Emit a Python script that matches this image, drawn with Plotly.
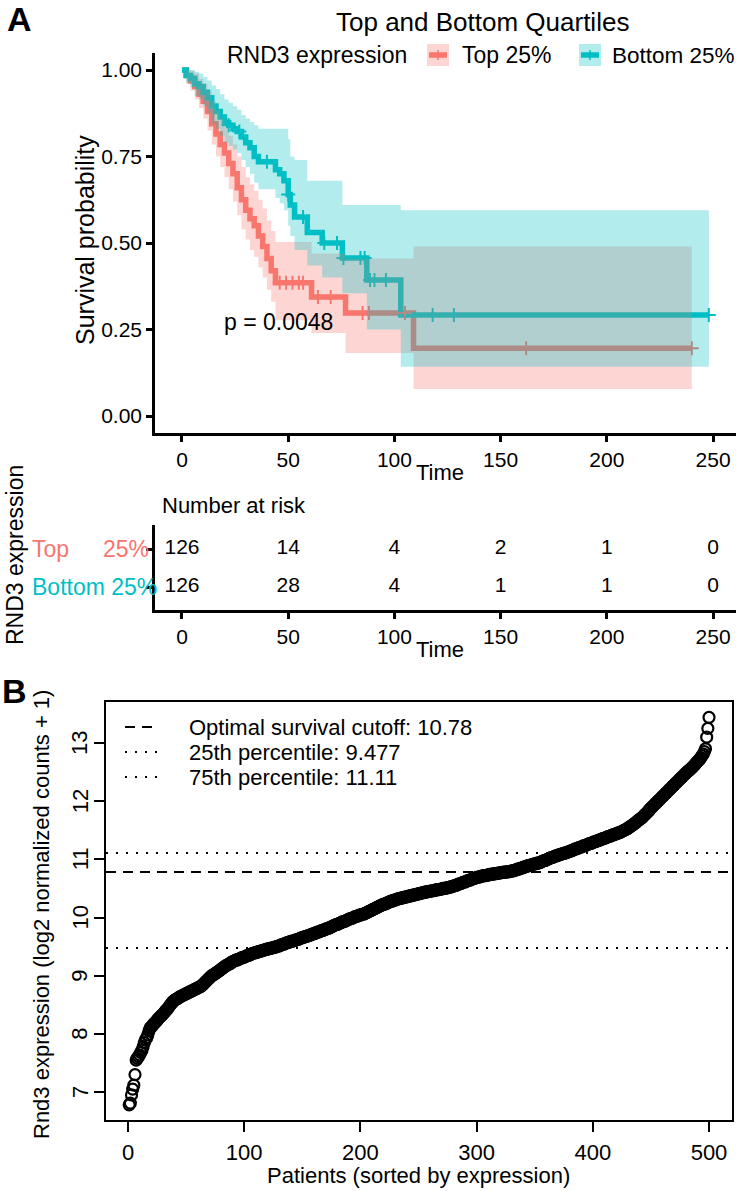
import plotly.graph_objects as go
from bisect import bisect_right

# ------------------------------------------------------------------ data
# Panel A: Kaplan-Meier estimates (step times, survival, 95% CI)
top_time = [0, 2, 4, 6, 8, 10, 12, 14, 16, 18, 20, 22, 24, 26, 28, 30, 32, 34, 36, 38, 40, 42, 44, 61, 77, 109]
top_surv = [1.000, 0.984, 0.968, 0.952, 0.930, 0.910, 0.880, 0.845, 0.815, 0.785, 0.760, 0.730, 0.700, 0.660,
            0.625, 0.595, 0.570, 0.550, 0.520, 0.490, 0.455, 0.420, 0.385, 0.344, 0.298, 0.196]
top_lower = [1.000, 0.962, 0.940, 0.915, 0.890, 0.860, 0.825, 0.785, 0.750, 0.720, 0.690, 0.655, 0.620, 0.580,
             0.540, 0.510, 0.480, 0.460, 0.430, 0.400, 0.365, 0.330, 0.277, 0.240, 0.182, 0.078]
top_upper = [1.000, 1.000, 0.997, 0.990, 0.975, 0.960, 0.940, 0.910, 0.885, 0.860, 0.835, 0.810, 0.785, 0.750,
             0.720, 0.690, 0.670, 0.650, 0.625, 0.600, 0.565, 0.535, 0.503, 0.470, 0.455, 0.490]
top_end = 240
top_censor = [46, 49, 52, 55, 57, 64, 70, 85, 88, 105, 162, 240]

bot_time = [0, 2, 4, 6, 8, 10, 12, 14, 16, 18, 20, 22, 24, 26, 28, 30, 32, 34, 36, 44, 46, 48, 50, 51, 53, 59,
            66, 75.5, 87, 103]
bot_surv = [1.000, 0.984, 0.976, 0.960, 0.952, 0.936, 0.920, 0.896, 0.880, 0.864, 0.848, 0.840, 0.830, 0.822,
            0.806, 0.790, 0.775, 0.750, 0.735, 0.712, 0.700, 0.680, 0.640, 0.610, 0.575, 0.530, 0.500, 0.457,
            0.393, 0.292]
bot_lower = [1.000, 0.962, 0.950, 0.925, 0.915, 0.895, 0.875, 0.845, 0.830, 0.810, 0.790, 0.780, 0.770, 0.760,
             0.740, 0.720, 0.700, 0.675, 0.655, 0.630, 0.615, 0.595, 0.550, 0.520, 0.480, 0.435, 0.400, 0.355,
             0.250, 0.142]
bot_upper = [1.000, 1.000, 1.000, 0.995, 0.990, 0.980, 0.970, 0.955, 0.945, 0.930, 0.915, 0.905, 0.895, 0.885,
             0.870, 0.860, 0.850, 0.840, 0.830, 0.830, 0.830, 0.830, 0.800, 0.750, 0.740, 0.680, 0.680, 0.610,
             0.610, 0.595]
bot_end = 248
bot_censor = [22, 27, 40, 50, 57, 67, 73, 76, 84, 86, 88.5, 90.6, 96, 118, 128, 248]

km_xticks = [0, 50, 100, 150, 200, 250]
km_yticks = [0.00, 0.25, 0.50, 0.75, 1.00]
km_yticklabels = ["0.00", "0.25", "0.50", "0.75", "1.00"]

risk_times = [0, 50, 100, 150, 200, 250]
risk_top = [126, 14, 4, 2, 1, 0]
risk_bottom = [126, 28, 4, 1, 1, 0]
pval_label = "p = 0.0048"

# Panel B: sorted RND3 expression for 500 patients
rnd3_sorted = [
    6.78, 6.81, 6.95, 7.05, 7.12, 7.30,
    7.55, 7.58, 7.61, 7.64, 7.68, 7.72, 7.78, 7.85, 7.90, 7.93, 7.98, 8.05, 8.10,
    8.12, 8.14, 8.17, 8.19, 8.21, 8.23, 8.26, 8.28, 8.30, 8.32, 8.34, 8.36, 8.39, 8.41,
    8.43, 8.46, 8.49, 8.51, 8.54, 8.56, 8.58, 8.59, 8.60, 8.61, 8.63, 8.64,
    8.65, 8.66, 8.67, 8.68, 8.69, 8.70, 8.71, 8.72, 8.73, 8.74, 8.75, 8.76, 8.77, 8.78, 8.79, 8.80, 8.81,
    8.82, 8.84, 8.86, 8.88, 8.90, 8.92, 8.94, 8.96, 8.98, 9.00, 9.01, 9.02, 9.04, 9.05,
    9.06, 9.08, 9.09, 9.11, 9.12, 9.14, 9.15, 9.17, 9.18, 9.19, 9.20, 9.21, 9.23, 9.24,
    9.25, 9.26, 9.27, 9.27, 9.28, 9.29, 9.30, 9.31, 9.31, 9.32, 9.33, 9.34, 9.35, 9.35, 9.36, 9.37, 9.38, 9.39,
    9.39, 9.40, 9.40, 9.41, 9.42, 9.42, 9.43, 9.43, 9.44, 9.45, 9.45, 9.46, 9.46, 9.47, 9.47, 9.48, 9.48, 9.49,
    9.49, 9.50,
    9.51, 9.51, 9.52, 9.53, 9.54, 9.54, 9.55, 9.56, 9.57, 9.57, 9.58, 9.59, 9.59, 9.60, 9.60, 9.61, 9.62, 9.62,
    9.63, 9.64,
    9.65, 9.65, 9.66, 9.67, 9.67, 9.68, 9.69, 9.69, 9.70, 9.71, 9.72, 9.72, 9.73, 9.74, 9.75, 9.75, 9.76, 9.77,
    9.78, 9.78, 9.79, 9.80, 9.81, 9.81, 9.82, 9.83, 9.84, 9.85,
    9.86, 9.87, 9.88, 9.88, 9.89, 9.90, 9.91, 9.92, 9.93, 9.93, 9.94, 9.95, 9.96, 9.97, 9.98, 9.98, 9.99, 10.00,
    10.01, 10.02, 10.02, 10.03, 10.04, 10.04, 10.05, 10.06, 10.06, 10.07, 10.08,
    10.09, 10.10, 10.11, 10.12, 10.13, 10.14, 10.15, 10.16, 10.17, 10.18, 10.19, 10.20, 10.21, 10.22, 10.23,
    10.23, 10.24, 10.25, 10.26, 10.27,
    10.28, 10.28, 10.29, 10.30, 10.30, 10.31, 10.32, 10.32, 10.33, 10.33, 10.34, 10.34, 10.35, 10.35, 10.36,
    10.36, 10.37, 10.37, 10.38, 10.38, 10.39, 10.39, 10.40,
    10.40, 10.41, 10.41, 10.42, 10.42, 10.43, 10.43, 10.44, 10.44, 10.44, 10.45, 10.45, 10.46, 10.46, 10.46,
    10.47, 10.47, 10.48, 10.48, 10.48, 10.49, 10.49, 10.50, 10.50, 10.50, 10.51, 10.51, 10.52, 10.52,
    10.53, 10.53, 10.54, 10.55, 10.55, 10.56, 10.57, 10.58, 10.58, 10.59, 10.60, 10.61, 10.61, 10.62, 10.63,
    10.64, 10.64, 10.65, 10.66, 10.67, 10.67, 10.68, 10.69,
    10.69, 10.70, 10.70, 10.71, 10.71, 10.72, 10.72, 10.72, 10.73, 10.73, 10.74, 10.74, 10.74, 10.75, 10.75,
    10.75, 10.76, 10.76, 10.76, 10.77, 10.77, 10.77, 10.78, 10.78, 10.78, 10.78, 10.79, 10.79, 10.79,
    10.80, 10.80, 10.81, 10.81, 10.82, 10.83, 10.83, 10.84, 10.85, 10.85, 10.86, 10.87, 10.87, 10.88, 10.89,
    10.89, 10.90, 10.90, 10.91, 10.92, 10.92, 10.93, 10.93, 10.94, 10.94, 10.95,
    10.96, 10.97, 10.98, 10.98, 10.99, 11.00, 11.01, 11.02, 11.03, 11.03, 11.04, 11.05, 11.06, 11.06, 11.07,
    11.08, 11.08, 11.09, 11.10, 11.10, 11.11, 11.11, 11.12,
    11.13, 11.14, 11.14, 11.15, 11.16, 11.17, 11.18, 11.18, 11.19, 11.20, 11.21, 11.21, 11.22, 11.23, 11.24,
    11.24, 11.25, 11.26, 11.27, 11.27, 11.28, 11.29,
    11.30, 11.30, 11.31, 11.32, 11.33, 11.33, 11.34, 11.35, 11.36, 11.36, 11.37, 11.38, 11.39, 11.39, 11.40,
    11.41, 11.42, 11.42, 11.43, 11.44, 11.45, 11.45, 11.46,
    11.47, 11.48, 11.49, 11.50, 11.51, 11.52, 11.53, 11.55, 11.56, 11.57, 11.59, 11.60, 11.62, 11.63, 11.65,
    11.67, 11.68, 11.70, 11.71, 11.73, 11.75, 11.77, 11.79, 11.81, 11.83, 11.86,
    11.88, 11.90, 11.92, 11.94, 11.96, 11.98, 12.00, 12.02, 12.04, 12.06, 12.08, 12.10, 12.12, 12.14, 12.16,
    12.18, 12.20, 12.22, 12.24, 12.26, 12.28, 12.30, 12.32, 12.34, 12.36, 12.38, 12.40, 12.42, 12.44, 12.46,
    12.48, 12.50, 12.52, 12.53, 12.55,
    12.57, 12.59, 12.61, 12.63, 12.66, 12.68, 12.70, 12.72, 12.75, 12.78, 12.81, 12.85, 12.90,
    13.10, 13.25, 13.44,
]
patient_rank = list(range(1, len(rnd3_sorted) + 1))
cutoff_optimal = 10.78
pct25 = 9.477
pct75 = 11.11
b_xticks = [0, 100, 200, 300, 400, 500]
b_yticks = [7, 8, 9, 10, 11, 12, 13]

# ------------------------------------------------------------------ style
W, H = 736, 1191
def px(x): return x / W
def py(y): return 1 - y / H

RED, TEAL = "#F8766D", "#00BFC4"
RED_FILL, TEAL_FILL = "rgba(248,118,109,0.3)", "rgba(0,191,196,0.3)"
AFONT = "Liberation Sans, Arial, Helvetica, sans-serif"
SANS = "Liberation Sans, Arial, Helvetica, sans-serif"
A_TICK = 21
A_TEXT = 23
B_SIZE = 22

def step_xy(times, vals, end):
    xs, ys = [], []
    for i, t in enumerate(times):
        t1 = times[i + 1] if i + 1 < len(times) else end
        xs += [t, t1]
        ys += [vals[i], vals[i]]
    return xs, ys

def surv_at(times, vals, t):
    return vals[bisect_right(times, t) - 1]

fig = go.Figure()

groups = [
    (top_time, top_surv, top_lower, top_upper, top_end, top_censor, RED, RED_FILL),
    (bot_time, bot_surv, bot_lower, bot_upper, bot_end, bot_censor, TEAL, TEAL_FILL),
]
for tm, sv, lo, hi, end, cens, col, fillc in groups:
    xs, ys = step_xy(tm, sv, end)
    fig.add_trace(go.Scatter(x=xs, y=ys, mode="lines", line=dict(color=col, width=5.5),
                             xaxis="x", yaxis="y", hoverinfo="skip"))
for tm, sv, lo, hi, end, cens, col, fillc in groups:
    fig.add_trace(go.Scatter(x=cens, y=[surv_at(tm, sv, c) for c in cens], mode="markers",
                             marker=dict(symbol="cross-thin", size=10, line=dict(color=col, width=2)),
                             xaxis="x", yaxis="y", hoverinfo="skip"))
for tm, sv, lo, hi, end, cens, col, fillc in groups:
    lx, ly = step_xy(tm, lo, end)
    ux, uy = step_xy(tm, hi, end)
    fig.add_trace(go.Scatter(x=lx + ux[::-1], y=ly + uy[::-1], mode="lines", fill="toself",
                             fillcolor=fillc, line=dict(width=0), xaxis="x", yaxis="y", hoverinfo="skip"))

# risk table
fig.add_trace(go.Scatter(x=risk_times, y=[2] * len(risk_times), text=[str(v) for v in risk_top], mode="text",
                         textfont=dict(family=AFONT, size=A_TICK, color="black"), xaxis="x2", yaxis="y2"))
fig.add_trace(go.Scatter(x=risk_times, y=[1] * len(risk_times), text=[str(v) for v in risk_bottom], mode="text",
                         textfont=dict(family=AFONT, size=A_TICK, color="black"), xaxis="x2", yaxis="y2"))

# panel B
fig.add_trace(go.Scatter(x=patient_rank, y=rnd3_sorted, mode="markers",
                         marker=dict(symbol="circle-open", size=11, color="black",
                                     line=dict(color="black", width=2.2)),
                         xaxis="x3", yaxis="y3", hoverinfo="skip"))

km_ax = dict(showline=True, linecolor="black", linewidth=2.5, ticks="outside", ticklen=6, tickwidth=2.5,
             tickcolor="black", showgrid=False, zeroline=False, automargin=False,
             tickfont=dict(family=AFONT, size=A_TICK, color="black"))
b_ax = dict(showline=True, mirror=True, linecolor="black", linewidth=2, ticks="outside", ticklen=10, tickwidth=2,
            tickcolor="black", showgrid=False, zeroline=False, automargin=False,
            tickfont=dict(family=SANS, size=B_SIZE, color="black"))

fig.update_layout(
    width=W, height=H, autosize=False, margin=dict(l=0, r=0, t=0, b=0),
    paper_bgcolor="white", plot_bgcolor="white", showlegend=False,
    xaxis=dict(domain=[px(155), 1], range=[-12.7, 260.8], anchor="y", tickvals=km_xticks, **km_ax),
    yaxis=dict(domain=[py(433.3), py(52.7)], range=[-0.05, 1.05], anchor="x", tickvals=km_yticks,
               ticktext=km_yticklabels, **km_ax),
    xaxis2=dict(domain=[px(155), 1], range=[-12.7, 260.8], anchor="y2", tickvals=km_xticks, **km_ax),
    yaxis2=dict(domain=[py(610), py(525)], range=[0.4, 2.63], anchor="x2", tickvals=[1, 2],
                ticktext=["", ""], **km_ax),
    xaxis3=dict(domain=[px(106), px(732.2)], range=[-18.96, 519.96], anchor="y3", tickvals=b_xticks,
                ticklabelstandoff=1, **b_ax),
    yaxis3=dict(domain=[py(1120.3), py(701.9)], range=[6.514, 13.706], anchor="x3", tickvals=b_yticks,
                showticklabels=False, **b_ax),
)

# cutoff lines panel B
fig.add_shape(type="line", xref="x3 domain", yref="y3", x0=0, x1=1, y0=cutoff_optimal, y1=cutoff_optimal,
              line=dict(color="black", width=2, dash="10px,7px"))
for v in (pct25, pct75):
    fig.add_shape(type="line", xref="x3 domain", yref="y3", x0=0, x1=1, y0=v, y1=v,
                  line=dict(color="black", width=2, dash="2px,8px"))

ann = []
def text(x, y, s, size, family=AFONT, color="black", xanchor="center", angle=0, bold=False):
    if bold:
        s = "<b>" + s + "</b>"
    ann.append(dict(x=px(x), y=py(y), xref="paper", yref="paper", text=s, showarrow=False,
                    xanchor=xanchor, yanchor="middle", textangle=angle,
                    font=dict(family=family, size=size, color=color)))

# rotated y tick labels of panel B (base-R style, parallel to the axis)
for v in b_yticks:
    ann.append(dict(x=px(80), y=v, xref="paper", yref="y3", text=str(v), showarrow=False,
                    xanchor="center", yanchor="middle", textangle=-90,
                    font=dict(family=SANS, size=B_SIZE, color="black")))

text(19, 19, "A", 34, family=SANS, bold=True)
text(14, 691, "B", 34, family=SANS, bold=True)
text(482, 22, "Top and Bottom Quartiles", 26)
text(225, 55, "RND3 expression", A_TEXT, xanchor="left")
text(460, 55, "Top 25%", A_TEXT, xanchor="left")
text(610, 55, "Bottom 25%", 22.5, xanchor="left")
text(85, 240, "Survival probability", 25, angle=-90)
text(222, 322, pval_label, A_TEXT, xanchor="left")
text(440, 472, "Time", 22)
text(160, 505, "Number at risk", 22, xanchor="left")
text(30, 549, "Top", A_TEXT, color=RED, xanchor="left")
text(151, 549, "25%", A_TEXT, color=RED, xanchor="right")
text(30, 587, "Bottom 25%", A_TEXT, color=TEAL, xanchor="left")
text(440, 649, "Time", 22)
text(15, 555, "RND3 expression", A_TEXT, angle=-90)

text(187, 727, "Optimal survival cutoff: 10.78", B_SIZE, family=SANS, xanchor="left")
text(187, 752, "25th percentile: 9.477", B_SIZE, family=SANS, xanchor="left")
text(187, 777, "75th percentile: 11.11", B_SIZE, family=SANS, xanchor="left")
text(419, 1175, "Patients (sorted by expression)", B_SIZE, family=SANS)
text(41, 915, "Rnd3 expression (log2 normalized counts + 1)", B_SIZE, family=SANS, angle=-90)
fig.update_layout(annotations=ann)

# legend keys (panel A)
for x0, col, fillc in ((427, RED, RED_FILL), (579, TEAL, TEAL_FILL)):
    fig.add_shape(type="rect", xref="paper", yref="paper", x0=px(x0), x1=px(x0 + 22), y0=py(66), y1=py(44),
                  fillcolor=fillc, line=dict(width=0))
    fig.add_shape(type="line", xref="paper", yref="paper", x0=px(x0 + 2), x1=px(x0 + 20), y0=py(55), y1=py(55),
                  line=dict(color=col, width=5.5))
    fig.add_shape(type="line", xref="paper", yref="paper", x0=px(x0 + 11), x1=px(x0 + 11), y0=py(50), y1=py(60),
                  line=dict(color=col, width=1.5))
# legend samples (panel B)
fig.add_shape(type="line", xref="paper", yref="paper", x0=px(125), x1=px(157), y0=py(727), y1=py(727),
              line=dict(color="black", width=2, dash="10px,7px"))
for yy in (752, 777):
    fig.add_shape(type="line", xref="paper", yref="paper", x0=px(125), x1=px(157), y0=py(yy), y1=py(yy),
                  line=dict(color="black", width=2, dash="2px,8px"))

fig.write_html("out.html")
